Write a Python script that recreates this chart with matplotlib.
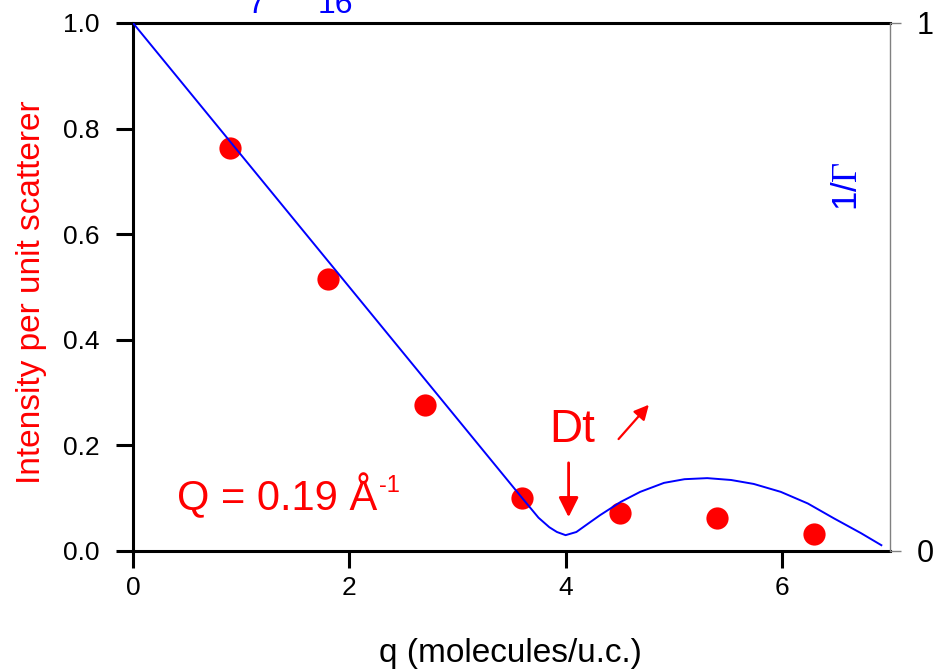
import matplotlib.pyplot as plt

plt.rcParams['font.family'] = ['Liberation Sans', 'DejaVu Sans']
plt.rcParams['mathtext.fontset'] = 'custom'
plt.rcParams['mathtext.rm'] = 'Liberation Sans'
plt.rcParams['mathtext.cal'] = 'Liberation Serif'

# measured intensity per unit scatterer
q_pts = [0.9, 1.8, 2.7, 3.6, 4.5, 5.4, 6.3]
intensity = [0.763, 0.515, 0.277, 0.100, 0.072, 0.063, 0.032]

# model curve (1/Gamma)
q_model = [0, 1, 2, 3, 3.6, 3.75, 3.85, 3.92, 4.0, 4.1, 4.23, 4.32, 4.51,
           4.69, 4.91, 5.1, 5.31, 5.53, 5.74, 5.99, 6.24, 6.48, 6.73, 6.92]
inv_gamma = [1.0, 0.75, 0.50, 0.25, 0.10, 0.063, 0.045, 0.036, 0.030,
             0.036, 0.055, 0.068, 0.093, 0.112, 0.129, 0.136, 0.138,
             0.1345, 0.127, 0.112, 0.090, 0.062, 0.034, 0.011]

red = '#ff0000'
blue = '#0000ff'

fig = plt.figure(figsize=(9.36, 6.70), dpi=100)
ax = fig.add_axes([133 / 936, 1 - 551 / 670, 757 / 936, 528 / 670])

ax.plot(q_pts, intensity, 'o', color=red, ms=16, mec='none', zorder=2)
ax.plot(q_model, inv_gamma, color=blue, lw=1.4, zorder=3)

ax.set_xlim(0, 7.0)
ax.set_ylim(0, 1.0)
ax.set_xticks([0, 2, 4, 6])
ax.set_yticks([0, 0.2, 0.4, 0.6, 0.8, 1.0])
ax.set_yticklabels(['0.0', '0.2', '0.4', '0.6', '0.8', '1.0'])
ax.tick_params(axis='both', direction='out', length=12, width=2.2,
               labelsize=19, colors='black')
ax.tick_params(axis='y', pad=12)
ax.tick_params(axis='x', pad=6)
for side in ['left', 'bottom', 'top']:
    ax.spines[side].set_linewidth(2.2)
ax.spines['right'].set_visible(False)

ax.set_xlabel('q (molecules/u.c.)', fontsize=24, va='center')
ax.xaxis.set_label_coords(0.499, -0.195)
ax.set_ylabel('Intensity per unit scatterer', fontsize=24, color=red,
              va='center')
ax.yaxis.set_label_coords(-0.134, 0.49)

# right-hand scale for the model curve
ax2 = ax.twinx()
ax2.set_ylim(0, 1)
ax2.set_yticks([0, 1])
ax2.set_yticklabels(['0', '1'])
ax2.tick_params(axis='y', direction='out', length=8, width=1,
                color='#808080', labelsize=22, labelcolor='black', pad=11)
for side in ['left', 'bottom', 'top']:
    ax2.spines[side].set_visible(False)
ax2.spines['right'].set_color('#808080')
ax2.spines['right'].set_linewidth(1.0)

ax.text(0.944, 0.692, r'1/$\mathcal{\Gamma}$', transform=ax.transAxes,
        rotation=90, ha='center', va='center', color=blue, fontsize=25)

qtxt = ax.text(0.407, 0.078, 'Q = 0.19 Å', color=red, fontsize=30,
               ha='left', va='baseline')
ax.annotate('-1', xy=(1.0, 0.96), xycoords=qtxt, xytext=(1, 0),
            textcoords='offset points', color=red, fontsize=17,
            ha='left', va='top')
ax.text(4.06, 0.206, 'Dt', color=red, fontsize=33, ha='center',
        va='baseline')

arrow = dict(arrowstyle='-|>', color=red, lw=2, mutation_scale=30,
             shrinkA=0, shrinkB=0)
ax.annotate('', xy=(4.028, 0.064), xytext=(4.028, 0.167), arrowprops=arrow)
ax.annotate('', xy=(4.77, 0.277), xytext=(4.49, 0.212),
            arrowprops=dict(arrow, lw=1.6, mutation_scale=22))

# title line running off the top edge
fig.text(256 / 936, 1 - 13 / 670, '7', color=blue, fontsize=23,
         ha='center', va='baseline')
fig.text(335 / 936, 1 - 13 / 670, '16', color=blue, fontsize=23,
         ha='center', va='baseline')

fig.savefig('out.png', dpi=100)
